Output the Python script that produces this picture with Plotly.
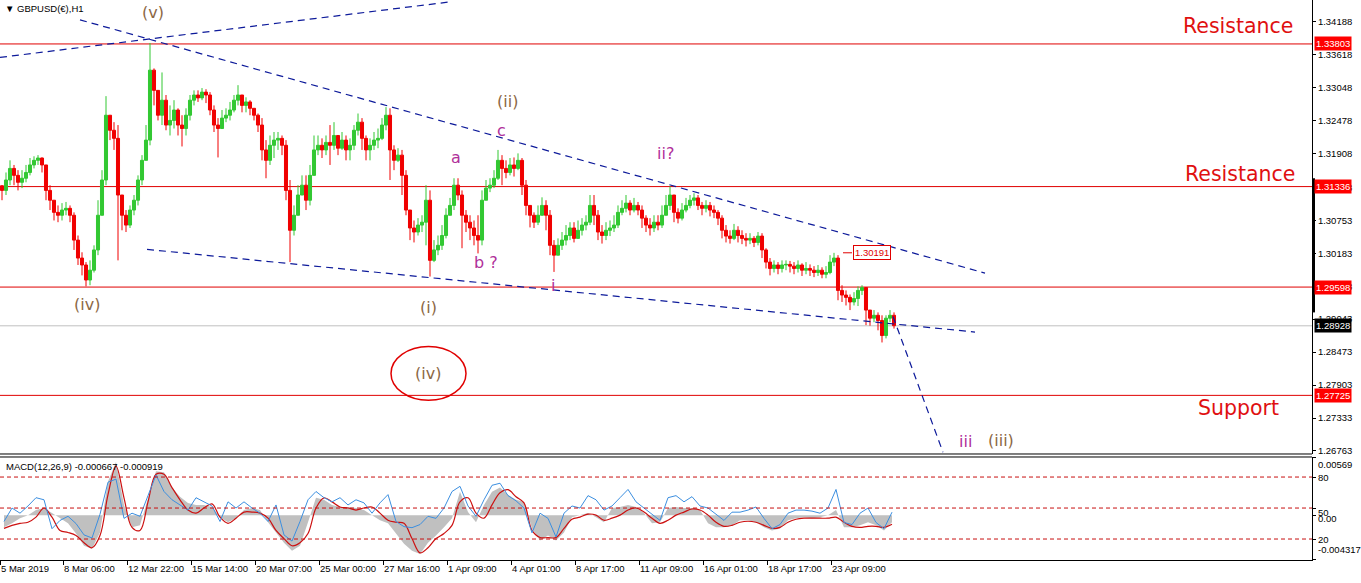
import plotly.graph_objects as go

symbol_title = "\u25BC GBPUSD(\u20ac),H1"
macd_title = "MACD(12,26,9) -0.000667 -0.000919"

# ---- 4-hour candles (bar index in trading hours since 5 Mar 15:00) ----
first_open = 1.3135
close = [1.3127, 1.3145, 1.3165, 1.3153, 1.3141, 1.3148, 1.3158, 1.3171, 1.3179, 1.3183,
         1.3171, 1.3127, 1.3110, 1.3089, 1.3084, 1.3093, 1.3096, 1.3084, 1.3041, 1.3010,
         1.2998, 1.2972, 1.2989, 1.3024, 1.3084, 1.3145, 1.3257, 1.3231, 1.3217, 1.3119,
         1.3084, 1.3067, 1.3093, 1.3110, 1.3145, 1.3179, 1.3214, 1.3335, 1.3300, 1.3257,
         1.3283, 1.3240, 1.3248, 1.3266, 1.3240, 1.3234, 1.3257, 1.3283, 1.3292, 1.3287,
         1.3297, 1.3292, 1.3266, 1.3240, 1.3234, 1.3252, 1.3257, 1.3266, 1.3283, 1.3292,
         1.3274, 1.3280, 1.3269, 1.3257, 1.3240, 1.3197, 1.3179, 1.3205, 1.3214, 1.3217,
         1.3205, 1.3127, 1.3058, 1.3084, 1.3119, 1.3136, 1.3110, 1.3153, 1.3197, 1.3205,
         1.3197, 1.3210, 1.3205, 1.3222, 1.3200, 1.3214, 1.3197, 1.3205, 1.3231, 1.3245,
         1.3217, 1.3197, 1.3205, 1.3214, 1.3217, 1.3240, 1.3257, 1.3197, 1.3179, 1.3188,
         1.3153, 1.3093, 1.3062, 1.3055, 1.3067, 1.3072, 1.3110, 1.3006, 1.3024, 1.3032,
         1.3049, 1.3084, 1.3101, 1.3136, 1.3119, 1.3084, 1.3072, 1.3062, 1.3049, 1.3041,
         1.3110, 1.3131, 1.3136, 1.3148, 1.3179, 1.3165, 1.3158, 1.3171, 1.3165, 1.3179,
         1.3136, 1.3101, 1.3084, 1.3072, 1.3084, 1.3101, 1.3084, 1.3032, 1.3015, 1.3032,
         1.3041, 1.3049, 1.3062, 1.3044, 1.3058, 1.3067, 1.3072, 1.3101, 1.3084, 1.3055,
         1.3049, 1.3058, 1.3062, 1.3067, 1.3089, 1.3096, 1.3105, 1.3093, 1.3101, 1.3093,
         1.3079, 1.3067, 1.3062, 1.3072, 1.3067, 1.3084, 1.3101, 1.3119, 1.3089, 1.3079,
         1.3093, 1.3101, 1.3110, 1.3114, 1.3101, 1.3096, 1.3101, 1.3093, 1.3089, 1.3079,
         1.3058, 1.3048, 1.3044, 1.3058, 1.3049, 1.3044, 1.3041, 1.3044, 1.3037, 1.3048,
         1.3024, 1.3003, 1.2992, 1.2998, 1.2992, 1.2998, 1.2999, 1.2996, 1.2992, 1.2998,
         1.2989, 1.2992, 1.2989, 1.2985, 1.2989, 1.2982, 1.2985, 1.3003, 1.3010, 1.2954,
         1.2946, 1.2942, 1.2934, 1.2940, 1.2954, 1.2959, 1.2920, 1.2906, 1.2911, 1.2902,
         1.2876, 1.2906, 1.2911, 1.2893]
high = [1.3136, 1.3158, 1.3179, 1.3171, 1.3162, 1.3162, 1.3171, 1.3183, 1.3186, 1.3188,
        1.3184, 1.3171, 1.3136, 1.3110, 1.3101, 1.3105, 1.3107, 1.3101, 1.3089, 1.3049,
        1.3020, 1.3003, 1.3006, 1.3032, 1.3110, 1.3162, 1.3290, 1.3248, 1.3245, 1.3240,
        1.3119, 1.3093, 1.3101, 1.3119, 1.3153, 1.3188, 1.3240, 1.3382, 1.3338, 1.3292,
        1.3331, 1.3292, 1.3274, 1.3283, 1.3269, 1.3257, 1.3269, 1.3292, 1.3300, 1.3300,
        1.3304, 1.3302, 1.3297, 1.3274, 1.3252, 1.3266, 1.3269, 1.3280, 1.3292, 1.3309,
        1.3292, 1.3288, 1.3283, 1.3269, 1.3260, 1.3252, 1.3214, 1.3222, 1.3228, 1.3228,
        1.3222, 1.3214, 1.3145, 1.3101, 1.3136, 1.3153, 1.3153, 1.3171, 1.3222, 1.3222,
        1.3217, 1.3222, 1.3240, 1.3245, 1.3222, 1.3228, 1.3222, 1.3217, 1.3240, 1.3260,
        1.3252, 1.3222, 1.3217, 1.3228, 1.3234, 1.3252, 1.3271, 1.3269, 1.3205, 1.3200,
        1.3197, 1.3162, 1.3093, 1.3075, 1.3079, 1.3084, 1.3136, 1.3127, 1.3041, 1.3049,
        1.3067, 1.3096, 1.3114, 1.3148, 1.3148, 1.3127, 1.3093, 1.3084, 1.3075, 1.3084,
        1.3127, 1.3145, 1.3148, 1.3162, 1.3197, 1.3188, 1.3179, 1.3183, 1.3184, 1.3191,
        1.3183, 1.3145, 1.3101, 1.3089, 1.3101, 1.3115, 1.3110, 1.3093, 1.3041, 1.3044,
        1.3055, 1.3067, 1.3072, 1.3072, 1.3075, 1.3079, 1.3084, 1.3119, 1.3119, 1.3093,
        1.3067, 1.3072, 1.3075, 1.3084, 1.3101, 1.3110, 1.3119, 1.3110, 1.3114, 1.3107,
        1.3101, 1.3084, 1.3079, 1.3084, 1.3084, 1.3101, 1.3119, 1.3134, 1.3119, 1.3096,
        1.3105, 1.3114, 1.3119, 1.3122, 1.3119, 1.3107, 1.3110, 1.3107, 1.3101, 1.3093,
        1.3084, 1.3067, 1.3058, 1.3069, 1.3065, 1.3058, 1.3053, 1.3053, 1.3048, 1.3055,
        1.3053, 1.3027, 1.3010, 1.3006, 1.3003, 1.3006, 1.3006, 1.3005, 1.3003, 1.3006,
        1.3001, 1.3003, 1.2999, 1.2996, 1.2998, 1.2994, 1.2996, 1.3015, 1.3019, 1.3015,
        1.2963, 1.2954, 1.2947, 1.2951, 1.2961, 1.2963, 1.2958, 1.2920, 1.2920, 1.2916,
        1.2911, 1.2911, 1.2920, 1.2916]
low = [1.3110, 1.3119, 1.3136, 1.3136, 1.3127, 1.3131, 1.3141, 1.3153, 1.3165, 1.3171,
       1.3158, 1.3110, 1.3093, 1.3075, 1.3072, 1.3075, 1.3084, 1.3072, 1.3024, 1.2998,
       1.2980, 1.2961, 1.2963, 1.2985, 1.3015, 1.3084, 1.3136, 1.3214, 1.3197, 1.3006,
       1.3058, 1.3055, 1.3062, 1.3084, 1.3101, 1.3136, 1.3179, 1.3205, 1.3274, 1.3248,
       1.3240, 1.3231, 1.3222, 1.3234, 1.3222, 1.3203, 1.3222, 1.3248, 1.3274, 1.3280,
       1.3283, 1.3278, 1.3257, 1.3228, 1.3184, 1.3240, 1.3245, 1.3248, 1.3262, 1.3274,
       1.3262, 1.3262, 1.3257, 1.3248, 1.3228, 1.3179, 1.3148, 1.3171, 1.3183, 1.3197,
       1.3188, 1.3110, 1.3003, 1.3049, 1.3084, 1.3119, 1.3093, 1.3101, 1.3153, 1.3188,
       1.3183, 1.3188, 1.3171, 1.3197, 1.3188, 1.3197, 1.3179, 1.3179, 1.3197, 1.3222,
       1.3197, 1.3179, 1.3179, 1.3197, 1.3200, 1.3214, 1.3231, 1.3145, 1.3162, 1.3176,
       1.3119, 1.3084, 1.3041, 1.3037, 1.3049, 1.3055, 1.3032, 1.2978, 1.3003, 1.3015,
       1.3024, 1.3044, 1.3084, 1.3093, 1.3110, 1.3027, 1.3055, 1.3041, 1.3032, 1.3018,
       1.3032, 1.3119, 1.3124, 1.3131, 1.3145, 1.3136, 1.3148, 1.3153, 1.3151, 1.3162,
       1.3119, 1.3084, 1.3063, 1.3062, 1.3067, 1.3084, 1.3058, 1.3015, 1.2986, 1.3015,
       1.3024, 1.3032, 1.3041, 1.3037, 1.3044, 1.3049, 1.3058, 1.3067, 1.3067, 1.3041,
       1.3035, 1.3041, 1.3048, 1.3055, 1.3062, 1.3084, 1.3089, 1.3084, 1.3089, 1.3084,
       1.3062, 1.3055, 1.3049, 1.3055, 1.3058, 1.3062, 1.3084, 1.3093, 1.3072, 1.3070,
       1.3075, 1.3089, 1.3096, 1.3101, 1.3093, 1.3084, 1.3089, 1.3082, 1.3079, 1.3067,
       1.3044, 1.3037, 1.3035, 1.3041, 1.3037, 1.3034, 1.3030, 1.3034, 1.3029, 1.3032,
       1.3010, 1.2992, 1.2980, 1.2985, 1.2982, 1.2985, 1.2989, 1.2985, 1.2982, 1.2985,
       1.2979, 1.2982, 1.2979, 1.2977, 1.2979, 1.2975, 1.2975, 1.2982, 1.2996, 1.2937,
       1.2934, 1.2928, 1.2920, 1.2928, 1.2927, 1.2946, 1.2894, 1.2893, 1.2899, 1.2885,
       1.2864, 1.2871, 1.2899, 1.2888]

# ---- MACD panel (sampled every 8 hours) ----
macd_main = [-0.0012, -0.0008, -0.0003, 0.0000, 0.0005, 0.0007, 0.0002, -0.0003, -0.0008, -0.0018,
             -0.0030, -0.0033, -0.0017, 0.0033, 0.0052, 0.0010, -0.0012, -0.0010, 0.0017, 0.0043,
             0.0042, 0.0027, 0.0018, 0.0012, 0.0010, 0.0010, 0.0008, -0.0002, -0.0007, -0.0003,
             0.0005, 0.0007, 0.0005, -0.0007, -0.0017, -0.0027, -0.0035, -0.0030, -0.0007, 0.0017,
             0.0015, 0.0010, 0.0008, 0.0008, 0.0007, 0.0005, 0.0000, -0.0005, -0.0008, -0.0018,
             -0.0028, -0.0035, -0.0038, -0.0027, -0.0020, -0.0012, -0.0003, 0.0023, 0.0003, -0.0007,
             0.0010, 0.0023, 0.0027, 0.0020, 0.0015, 0.0013, -0.0013, -0.0025, -0.0020, -0.0025,
             -0.0017, -0.0002, 0.0000, 0.0002, -0.0002, -0.0007, 0.0007, 0.0008, 0.0010, 0.0008,
             0.0002, -0.0008, -0.0007, 0.0007, 0.0008, 0.0007, 0.0007, 0.0005, -0.0008, -0.0012,
             -0.0012, -0.0010, -0.0005, -0.0005, -0.0007, -0.0012, -0.0015, -0.0013, -0.0005, -0.0003,
             -0.0002, -0.0003, -0.0002, 0.0000, 0.0005, -0.0012, -0.0012, -0.0010, -0.0007, -0.0010,
             -0.0015, -0.0007]
macd_signal = [-0.0013, -0.0010, -0.0008, -0.0007, -0.0002, 0.0007, -0.0002, -0.0015, -0.0017, -0.0020,
               -0.0027, -0.0032, -0.0020, 0.0020, 0.0048, 0.0017, -0.0012, -0.0015, 0.0013, 0.0040,
               0.0040, 0.0027, 0.0015, 0.0005, 0.0002, 0.0007, 0.0011, -0.0002, -0.0008, -0.0003,
               0.0003, 0.0003, 0.0002, -0.0003, -0.0015, -0.0023, -0.0030, -0.0027, -0.0018, 0.0007,
               0.0017, 0.0013, 0.0008, 0.0007, 0.0005, 0.0007, 0.0008, 0.0002, -0.0005, -0.0007,
               -0.0008, -0.0023, -0.0037, -0.0032, -0.0023, -0.0018, -0.0010, 0.0013, 0.0017, 0.0002,
               -0.0003, 0.0010, 0.0022, 0.0025, 0.0018, 0.0012, -0.0015, -0.0022, -0.0022, -0.0022,
               -0.0013, -0.0004, -0.0002, 0.0001, 0.0000, -0.0005, -0.0003, 0.0000, 0.0005, 0.0007,
               0.0003, -0.0003, -0.0008, -0.0005, 0.0000, 0.0003, 0.0006, 0.0005, 0.0000, -0.0007,
               -0.0011, -0.0010, -0.0007, -0.0006, -0.0007, -0.0010, -0.0013, -0.0012, -0.0007, -0.0004,
               -0.0003, -0.0003, -0.0003, -0.0003, -0.0002, -0.0007, -0.0011, -0.0012, -0.0011, -0.0011,
               -0.0012, -0.0009]
osc_line = [37, 50, 45, 52, 60, 58, 30, 38, 42, 35,
            24, 21, 44, 75, 78, 40, 45, 42, 62, 82,
            66, 58, 53, 48, 60, 56, 52, 37, 56, 50,
            56, 50, 45, 37, 53, 24, 18, 37, 58, 66,
            60, 56, 60, 53, 58, 55, 45, 55, 63, 37,
            32, 31, 34, 42, 40, 50, 66, 71, 52, 42,
            58, 72, 74, 62, 57, 50, 26, 45, 40, 22,
            45, 52, 50, 62, 58, 48, 52, 60, 68, 56,
            50, 44, 38, 60, 62, 56, 61, 52, 50, 44,
            38, 46, 46, 48, 51, 40, 30, 34, 45, 48,
            48, 47, 45, 50, 68, 36, 34, 45, 50, 36,
            30, 46]
osc_levels = [80, 50, 20]

# ---- axis labels ----
tick_hours = [0, 63, 127, 191, 255, 319, 383, 447, 511, 575, 639, 703, 767, 831]
tick_labels = ["5 Mar 2019", "8 Mar 06:00", "12 Mar 22:00", "15 Mar 14:00", "20 Mar 07:00",
               "25 Mar 00:00", "27 Mar 16:00", "1 Apr 09:00", "4 Apr 01:00", "8 Apr 17:00",
               "11 Apr 09:00", "16 Apr 01:00", "18 Apr 17:00", "23 Apr 09:00"]
price_ticks = [1.34188, 1.33618, 1.33048, 1.32478, 1.31908, 1.31323, 1.30753, 1.30183,
               1.29613, 1.29043, 1.28473, 1.27903, 1.27333, 1.26763]

# ---- chart objects ----
red_levels = [1.33803, 1.31336, 1.29598, 1.27725]
last_price = 1.28928
marked_high = 1.30191
marked_high_hour = 872
trendlines = [((0, 1.3357), (450, 1.3453)),
              ((80, 1.3422), (985, 1.2984)),
              ((147, 1.3025), (975, 1.2882)),
              ((893, 1.2909), (943, 1.2674))]
BROWN = "#8C6845"
MAG = "#B0309A"
wave_labels = [("(v)", 153, 1.3435, BROWN), ("(iv)", 87, 1.2930, BROWN),
               ("(i)", 428, 1.2925, BROWN), ("(ii)", 507, 1.3280, BROWN),
               ("(iii)", 1001, 1.2695, BROWN), ("(iv)", 428, 1.2811, BROWN),
               ("a", 456, 1.3184, MAG), ("c", 501, 1.3231, MAG), ("b ?", 486, 1.3003, MAG),
               ("i", 553, 1.2963, MAG), ("ii?", 665, 1.3191, MAG), ("iii", 965, 1.2693, MAG)]
zone_labels = [("Resistance", 1238, 1.3411), ("Resistance", 1240, 1.3155), ("Support", 1238, 1.2750)]
circle_box = (391, 466, 1.2764, 1.2857)

# ---- build ----
n = min(len(close), len(high), len(low))
hours = [4 * i + 2 for i in range(n)]
opens = [first_open] + close[:n - 1]
highs = [max(high[i], opens[i], close[i]) for i in range(n)]
lows = [min(low[i], opens[i], close[i]) for i in range(n)]
m = min(len(macd_main), len(macd_signal), len(osc_line))
macd_hours = [8 * i + 4 for i in range(m)]

FONT = "Liberation Sans"
fig = go.Figure()
fig.add_trace(go.Candlestick(
    x=hours, open=opens, high=highs, low=lows, close=close[:n],
    increasing=dict(line=dict(color="#32C832", width=1), fillcolor="#32C832"),
    decreasing=dict(line=dict(color="#F00000", width=1), fillcolor="#F00000"),
    whiskerwidth=0, xaxis="x", yaxis="y", hoverinfo="skip"))

for (h0, p0), (h1, p1) in trendlines:
    fig.add_trace(go.Scatter(x=[h0, h1], y=[p0, p1], mode="lines",
                             line=dict(color="#0D1A9A", width=1.2, dash="7px,5px"),
                             xaxis="x", yaxis="y", hoverinfo="skip"))

fig.add_trace(go.Scatter(x=macd_hours, y=macd_main[:m], mode="lines", fill="tozeroy",
                         fillcolor="#C0C0C0", line=dict(width=0, color="#C0C0C0"),
                         xaxis="x", yaxis="y2", hoverinfo="skip"))
fig.add_trace(go.Scatter(x=macd_hours, y=macd_signal[:m], mode="lines",
                         line=dict(color="#CC1010", width=1.2, shape="spline"),
                         xaxis="x", yaxis="y2", hoverinfo="skip"))
fig.add_trace(go.Scatter(x=macd_hours, y=osc_line[:m], mode="lines",
                         line=dict(color="#3C8FE0", width=1),
                         xaxis="x", yaxis="y3", hoverinfo="skip"))

shapes = []
for lv in red_levels:
    shapes.append(dict(type="line", xref="paper", x0=0, x1=1, yref="y", y0=lv, y1=lv,
                       line=dict(color="#E00000", width=1), layer="below"))
shapes.append(dict(type="line", xref="paper", x0=0, x1=1, yref="y", y0=last_price, y1=last_price,
                   line=dict(color="#C0C0C0", width=1), layer="below"))
for lv in osc_levels:
    shapes.append(dict(type="line", xref="paper", x0=0, x1=1, yref="y3", y0=lv, y1=lv,
                       line=dict(color="#C81010", width=1, dash="4px,3px")))
shapes.append(dict(type="line", xref="paper", x0=0, x1=1, yref="y domain", y0=0, y1=0,
                   line=dict(color="black", width=1)))
shapes.append(dict(type="line", xref="paper", x0=0, x1=1, yref="y2 domain", y0=1, y1=1,
                   line=dict(color="black", width=1)))
shapes.append(dict(type="circle", xref="x", yref="y", x0=circle_box[0], x1=circle_box[1],
                   y0=circle_box[2], y1=circle_box[3], line=dict(color="#E00000", width=1.5)))
shapes.append(dict(type="line", xref="x", yref="y", x0=marked_high_hour - 29, x1=marked_high_hour - 20,
                   y0=marked_high, y1=marked_high, line=dict(color="#E00000", width=1)))
shapes.append(dict(type="rect", xref="paper", x0=1, x1=1.0023, yref="y", y0=1.2916, y1=1.3148,
                   fillcolor="black", line=dict(width=0)))
fig.update_layout(shapes=shapes)

ann = []
ann.append(dict(text=symbol_title, xref="paper", yref="paper", x=0.002, y=1, xanchor="left",
                yanchor="top", yshift=-1, showarrow=False, font=dict(family=FONT, size=9.5, color="black")))
ann.append(dict(text=macd_title, xref="paper", yref="y2 domain", x=0.003, y=1, xanchor="left",
                yanchor="top", yshift=-2, showarrow=False, font=dict(family=FONT, size=9.5, color="black")))
for lv in red_levels:
    ann.append(dict(text="%.5f" % lv, xref="paper", x=1, xanchor="left", xshift=2, yref="y", y=lv,
                    showarrow=False, bgcolor="#FF0000", borderpad=1,
                    font=dict(family=FONT, size=9.5, color="white")))
ann.append(dict(text="%.5f" % last_price, xref="paper", x=1, xanchor="left", xshift=2, yref="y",
                y=last_price, showarrow=False, bgcolor="black", borderpad=1,
                font=dict(family=FONT, size=9.5, color="white")))
ann.append(dict(text="%.5f" % marked_high, xref="x", x=marked_high_hour, yref="y", y=marked_high,
                showarrow=False, bgcolor="white", bordercolor="#E00000", borderwidth=1, borderpad=1,
                font=dict(family=FONT, size=9.5, color="#E00000")))
for txt, h, p, col in wave_labels:
    ann.append(dict(text=txt, x=h, y=p, xref="x", yref="y", showarrow=False,
                    font=dict(family="DejaVu Sans", size=16, color=col)))
for txt, h, p in zone_labels:
    ann.append(dict(text=txt, x=h, y=p, xref="x", yref="y", showarrow=False,
                    font=dict(family="DejaVu Sans", size=20.5, color="#E01010")))
macd_axis_labels = [("0.00569", "y2", 0.00569, "top", 0), ("0.00", "y2", 0.0, "middle", -3),
                    ("-0.004317", "y2", -0.004317, "bottom", 2), ("80", "y3", 80, "middle", 0),
                    ("50", "y3", 50, "middle", -4), ("20", "y3", 20, "middle", 0)]
for txt, ax, v, anc, dy in macd_axis_labels:
    ann.append(dict(text=txt, xref="paper", x=1, xanchor="left", xshift=4, yref=ax, y=v,
                    yanchor=anc, yshift=dy, showarrow=False,
                    font=dict(family=FONT, size=9.5, color="black")))
fig.update_layout(annotations=ann)

fig.update_layout(
    width=1361, height=583,
    margin=dict(l=0, r=49, t=0, b=23),
    paper_bgcolor="white", plot_bgcolor="white",
    showlegend=False,
    boxgap=0.15, boxgroupgap=0.1,
    xaxis=dict(range=[0, 1312], domain=[0, 1], anchor="y2", tickvals=tick_hours, ticktext=tick_labels,
               ticks="outside", ticklen=4, tickcolor="black", ticklabelposition="outside right",
               tickangle=0, showline=True, linecolor="black", showgrid=False, zeroline=False,
               rangeslider=dict(visible=False),
               tickfont=dict(family=FONT, size=9.5, color="black")),
    yaxis=dict(domain=[0.18929, 1], range=[1.26711, 1.34563], side="right", anchor="x",
               tickvals=price_ticks, ticktext=["%.5f" % t for t in price_ticks],
               ticks="outside", ticklen=3, tickcolor="black", showline=True, linecolor="black",
               showgrid=False, zeroline=False, tickfont=dict(family=FONT, size=9.5, color="black")),
    yaxis2=dict(domain=[0, 0.18393], range=[-0.0044, 0.0057], side="right", anchor="x",
                tickvals=[0.00569, 0.0, -0.004317], ticks="outside", ticklen=3, tickcolor="black",
                showticklabels=False, showline=True, linecolor="black", showgrid=False, zeroline=False),
    yaxis3=dict(overlaying="y2", range=[-0.3, 99.4], side="right", anchor="x",
                tickvals=osc_levels, ticks="outside", ticklen=3, tickcolor="black",
                showticklabels=False, showline=False, showgrid=False, zeroline=False),
)

fig.write_html("out.html", config={"displayModeBar": False},
               post_script="document.body.style.margin='0';document.body.style.overflow='hidden';")
